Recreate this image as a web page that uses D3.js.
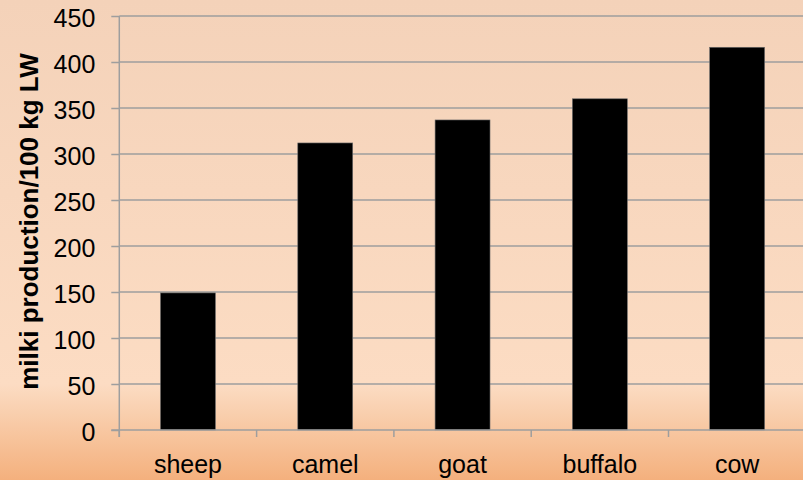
<!DOCTYPE html>
<html>
<head>
<meta charset="utf-8">
<script src="https://cdn.jsdelivr.net/npm/d3@7/dist/d3.min.js"></script>
<style>
  html, body { margin: 0; padding: 0; overflow: hidden; }
  svg { display: block; }
</style>
</head>
<body>
<svg id="chart" width="803" height="480"></svg>
<script>
// Milk production per 100 kg live weight, by species
const categories = ["sheep", "camel", "goat", "buffalo", "cow"];
const values = [149, 312, 337, 360, 416];
const yTicks = [0, 50, 100, 150, 200, 250, 300, 350, 400, 450];
const yLabel = "milki production/100 kg LW";

const W = 803, H = 480;
const svg = d3.select("#chart");

// Background gradient
const defs = svg.append("defs");
const grad = defs.append("linearGradient")
  .attr("id", "bg").attr("x1", 0).attr("y1", 0).attr("x2", 0).attr("y2", 1);
grad.append("stop").attr("offset", "0%").attr("stop-color", "#f4d2b9");
grad.append("stop").attr("offset", "80%").attr("stop-color", "#fcdcc3");
grad.append("stop").attr("offset", "86%").attr("stop-color", "#f9cfae");
grad.append("stop").attr("offset", "100%").attr("stop-color", "#f4b07d");
svg.append("rect").attr("width", W).attr("height", H).attr("fill", "url(#bg)");

const margin = { left: 119.3, top: 16, bottom: 430 };
const step = 137.3;
const x = d3.scaleBand()
  .domain(categories)
  .range([margin.left, margin.left + step * categories.length])
  .paddingInner(0.6).paddingOuter(0.3);
const y = d3.scaleLinear().domain([0, 450]).range([margin.bottom, margin.top]);

const axisColor = "#9e9e9e";
const font = "'Liberation Sans', Arial, sans-serif";

// Horizontal gridlines
svg.append("g").selectAll("line")
  .data(yTicks.filter(d => d > 0))
  .join("line")
  .attr("x1", margin.left).attr("x2", W)
  .attr("y1", d => y(d)).attr("y2", d => y(d))
  .attr("stroke", axisColor).attr("stroke-width", 1.5);

// Bars
svg.append("g").selectAll("rect")
  .data(categories.map((c, i) => ({ c, v: values[i] })))
  .join("rect")
  .attr("x", d => x(d.c))
  .attr("width", x.bandwidth())
  .attr("y", d => y(d.v))
  .attr("height", d => y(0) - y(d.v))
  .attr("fill", "#000")
  .attr("stroke", "#6b6b6b").attr("stroke-width", 0.6);

// Y axis
const yAxis = svg.append("g")
  .attr("transform", `translate(${margin.left},0)`)
  .call(d3.axisLeft(y).tickValues(yTicks).tickSize(8).tickPadding(16));
yAxis.select(".domain").attr("stroke", axisColor).attr("stroke-width", 1.5)
  .attr("d", `M0,${y(450)}V${y(0) + 7}`);
yAxis.selectAll(".tick line").attr("stroke", axisColor).attr("stroke-width", 1.5);
yAxis.selectAll(".tick text")
  .attr("fill", "#000").attr("dy", "0.4em")
  .style("font-family", font).style("font-size", "25px");

// X axis with ticks at band boundaries
const xAxisG = svg.append("g").attr("transform", `translate(0,${y(0)})`);
xAxisG.append("line")
  .attr("x1", margin.left - 8).attr("x2", W)
  .attr("y1", 0).attr("y2", 0)
  .attr("stroke", axisColor).attr("stroke-width", 1.5);
xAxisG.selectAll("line.tk")
  .data(categories)
  .join("line").attr("class", "tk")
  .attr("x1", d => x(d) - x.step() * x.paddingOuter())
  .attr("x2", d => x(d) - x.step() * x.paddingOuter())
  .attr("y1", 0).attr("y2", 7)
  .attr("stroke", axisColor).attr("stroke-width", 1.5);
xAxisG.selectAll("text")
  .data(categories)
  .join("text")
  .attr("x", d => x(d) + x.bandwidth() / 2)
  .attr("y", 43)
  .attr("text-anchor", "middle")
  .style("font-family", font).style("font-size", "25px")
  .attr("fill", "#000")
  .text(d => d);

// Y axis title
svg.append("text")
  .attr("transform", `translate(38,221.5) rotate(-90)`)
  .attr("text-anchor", "middle")
  .style("font-family", font).style("font-size", "26px").style("font-weight", "bold")
  .attr("fill", "#000")
  .text(yLabel);
</script>
</body>
</html>
